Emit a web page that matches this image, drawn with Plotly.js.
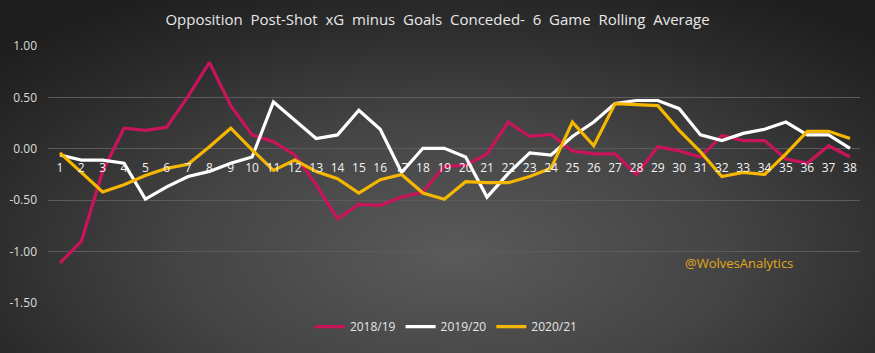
<!DOCTYPE html>
<html>
<head>
<meta charset="utf-8">
<script src="https://cdn.plot.ly/plotly-3.0.1.min.js"></script>
<style>
  html, body { margin: 0; padding: 0; }
  body { width: 875px; height: 353px; overflow: hidden;
    background: radial-gradient(ellipse 70% 85% at 52% 72%, #5a5a5a 0%, #444444 45%, #2a2a2a 80%, #1e1e1e 100%); }
  #chart { width: 875px; height: 353px; }
</style>
</head>
<body>
<div id="chart"></div>
<script>
const games = Array.from({length: 38}, (_, i) => i + 1);
const tickLabels = games.map(String);

const season1819 = [-1.11, -0.90, -0.22, 0.20, 0.18, 0.21, 0.51, 0.84, 0.42, 0.135,
  0.07, -0.06, -0.35, -0.68, -0.54, -0.55, -0.47, -0.42, -0.17, -0.16,
  -0.05, 0.26, 0.12, 0.14, -0.02, -0.05, -0.05, -0.25, 0.02, -0.02,
  -0.08, 0.13, 0.08, 0.08, -0.10, -0.14, 0.03, -0.08];
const season1920 = [-0.06, -0.11, -0.11, -0.14, -0.49, -0.37, -0.27, -0.22, -0.14, -0.08,
  0.455, 0.28, 0.10, 0.135, 0.375, 0.19, -0.23, 0.005, 0.005, -0.08,
  -0.47, -0.24, -0.04, -0.06, 0.12, 0.26, 0.44, 0.47, 0.47, 0.39,
  0.135, 0.08, 0.15, 0.19, 0.26, 0.135, 0.135, 0.005];
const season2021 = [-0.04, -0.23, -0.42, -0.35, -0.26, -0.19, -0.15, 0.02, 0.20, -0.01,
  -0.21, -0.11, -0.22, -0.29, -0.43, -0.30, -0.25, -0.43, -0.49, -0.32,
  -0.33, -0.33, -0.27, -0.19, 0.26, 0.03, 0.44, 0.43, 0.42, 0.18,
  -0.03, -0.27, -0.23, -0.25, -0.05, 0.17, 0.17, 0.10];

const seriesNames = ['2018/19', '2019/20', '2020/21'];
const seriesColors = ['#c8145a', '#ffffff', '#f5b700'];
const seriesData = [season1819, season1920, season2021];

const traces = seriesData.map((ys, i) => ({
  type: 'scatter', mode: 'lines', x: games, y: ys, name: seriesNames[i],
  line: {color: seriesColors[i], width: 3.2}
}));

const layout = {
  width: 875, height: 353,
  paper_bgcolor: 'rgba(0,0,0,0)', plot_bgcolor: 'rgba(0,0,0,0)',
  margin: {l: 48, r: 15, t: 46, b: 47},
  title: {
    text: 'Opposition\u00a0 Post-Shot\u00a0 xG\u00a0 minus\u00a0 Goals\u00a0 Conceded-\u00a0 6\u00a0 Game\u00a0 Rolling\u00a0 Average',
    font: {family: 'Open Sans', size: 15, color: '#e8e8e8'},
    x: 0.5, xanchor: 'center', xref: 'container',
    y: 1 - 20/353, yref: 'container', yanchor: 'middle'
  },
  xaxis: {
    range: [0.44, 38.47], tickmode: 'array', tickvals: games, ticktext: tickLabels,
    anchor: 'free', position: 0.6, showgrid: false, zeroline: false, showline: false,
    ticks: '', ticklabelstandoff: 10,
    tickfont: {family: 'Open Sans', size: 12, color: '#f2f2f2'}
  },
  yaxis: {
    range: [-1.5, 1.0], tickvals: [-1.5, -1.0, -0.5, 0, 0.5, 1.0],
    ticktext: ['-1.50', '-1.00', '-0.50', '0.00', '0.50', '1.00'],
    showgrid: true, gridcolor: '#5c5c5c', gridwidth: 1, zeroline: false, showline: false,
    ticks: '', ticklabelstandoff: 10,
    tickfont: {family: 'Open Sans', size: 12, color: '#dcdcdc'}
  },
  showlegend: true,
  legend: {
    orientation: 'h', x: 0.49, xanchor: 'center', y: -0.092, yanchor: 'middle',
    font: {family: 'Open Sans', size: 12, color: '#e6e6e6'},
    bgcolor: 'rgba(0,0,0,0)', itemwidth: 30, tracegroupgap: 0
  },
  annotations: [{
    text: '@WolvesAnalytics', xref: 'paper', yref: 'paper',
    x: 0.851, y: 0.154, xanchor: 'center', yanchor: 'middle', showarrow: false,
    font: {family: 'Open Sans', size: 13, color: '#e3a81a'}
  }]
};

Plotly.newPlot('chart', traces, layout, {displayModeBar: false, staticPlot: true});
</script>
</body>
</html>
